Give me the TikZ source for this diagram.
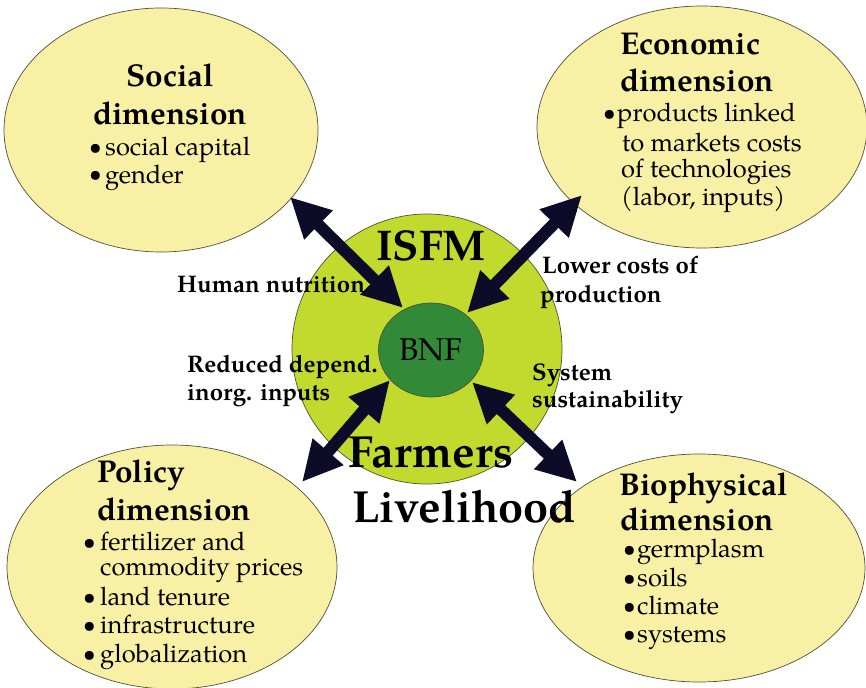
\documentclass[tikz,border=0pt]{standalone}
\usepackage{fontspec}
\setmainfont{TeX Gyre Pagella}
\usetikzlibrary{shapes.geometric,arrows.meta}
\definecolor{ellfill}{RGB}{247,240,165}
\definecolor{ellline}{RGB}{80,80,55}
\definecolor{isfmfill}{RGB}{194,217,46}
\definecolor{bnffill}{RGB}{50,138,56}
\definecolor{arrowcol}{RGB}{12,12,40}
\tikzset{
  dimell/.style={ellipse, draw=ellline, line width=0.7pt, fill=ellfill, inner sep=0pt},
  ttl/.style={font=\fontsize{31.5}{36}\selectfont\bfseries, inner sep=0pt, anchor=base west},
  itm/.style={font=\fontsize{25.5}{28}\selectfont, inner sep=0pt, anchor=base west},
  bul/.style={font=\fontsize{22.5}{24}\selectfont, inner sep=0pt, anchor=base west, yshift=1pt},
  lbl/.style={font=\fontsize{24}{28}\selectfont\bfseries, inner sep=0pt, anchor=base west},
  big/.style={font=\fontsize{45}{52}\selectfont\bfseries, inner sep=0pt, anchor=base west},
  dblarrow/.style={line width=12pt, draw=arrowcol,
    {Triangle[width=38pt,length=40pt]}-{Triangle[width=38pt,length=40pt]}}
}
\begin{document}
\begin{tikzpicture}[x=1pt,y=-1pt]
\useasboundingbox (0,0) rectangle (866,687);
\clip (0,0) rectangle (866,687);
% dimension ellipses
\node[dimell, minimum width=314pt, minimum height=244pt] (soc) at (161,130) {};
\node[dimell, minimum width=330pt, minimum height=242pt] (eco) at (702,127) {};
\node[dimell, minimum width=330pt, minimum height=244pt] (pol) at (172,567) {};
\node[dimell, minimum width=332pt, minimum height=228pt] (bio) at (699,568) {};
% central circles
\node[circle, draw=ellline, line width=0.7pt, fill=isfmfill, minimum size=270pt, inner sep=0pt] (isfm) at (427,349) {};
\node[ellipse, draw=ellline, line width=0.7pt, fill=bnffill, minimum width=105pt, minimum height=94pt, inner sep=0pt,
      font=\fontsize{31.5}{36}\selectfont] (bnf) at (431,350) {BNF};
% arrow tips
\coordinate (socT) at (290,197);
\coordinate (bnfUL) at (403,308);
\coordinate (ecoT) at (582,195);
\coordinate (bnfUR) at (467,313);
\coordinate (polT) at (302,482);
\coordinate (bnfLL) at (390,380);
\coordinate (bioT) at (577,482);
\coordinate (bnfLR) at (472,382);
\draw[dblarrow] (socT) -- (bnfUL);
\draw[dblarrow] (ecoT) -- (bnfUR);
\draw[dblarrow] (polT) -- (bnfLL);
\draw[dblarrow] (bioT) -- (bnfLR);
% central texts
\node[big, anchor=base, font=\fontsize{43}{52}\selectfont\bfseries] (isfmt) at (431,260) {ISFM};
\node[big] (farm) at (348,467) {Farmers};
\node[big] (live) at (352,522) {Livelihood};
% connector labels
\node[lbl] (hn) at (177,292) {Human nutrition};
\node[lbl] (rd1) at (187,372) {Reduced depend.};
\node[lbl] (rd2) at (187,400) {inorg. inputs};
\node[lbl] (lc1) at (542,273) {Lower costs of};
\node[lbl] (lc2) at (540,302) {production};
\node[lbl] (ss1) at (532,380) {System};
\node[lbl] (ss2) at (532,407) {sustainability};
% social
\node[ttl, anchor=base] (soct) at (170,87) {Social};
\node[ttl, anchor=base] (socd) at (170,125) {dimension};
\node[bul] (socb1) at (89,156) {\textbullet};
\node[itm] (soci1) at (105,156) {social capital};
\node[bul] (socb2) at (89,183) {\textbullet};
\node[itm] (soci2) at (105,183) {gender};
% economic
\node[ttl] (ecot) at (620,55) {Economic};
\node[ttl] (ecod) at (620,92) {dimension};
\node[bul] (ecob1) at (603,122) {\textbullet};
\node[itm] (ecoi1) at (617,122) {products linked};
\node[itm] (ecoi2) at (622,152) {to markets costs};
\node[itm] (ecoi3) at (621,178) {of technologies};
\node[itm] (ecoi4) at (621,205) {(labor, inputs)};
% policy
\node[ttl] (polt) at (97,482) {Policy};
\node[ttl] (pold) at (97,520) {dimension};
\node[bul] (polb1) at (83,550) {\textbullet};
\node[itm] (poli1) at (100,550) {fertilizer and};
\node[itm] (poli1b) at (100,575) {commodity prices};
\node[bul] (polb2) at (83,605) {\textbullet};
\node[itm] (poli2) at (100,605) {land tenure};
\node[bul] (polb3) at (83,633) {\textbullet};
\node[itm] (poli3) at (100,633) {infrastructure};
\node[bul] (polb4) at (83,662) {\textbullet};
\node[itm] (poli4) at (100,662) {globalization};
% biophysical
\node[ttl] (biot) at (619,495) {Biophysical};
\node[ttl] (biod) at (620,530) {dimension};
\node[bul] (biob1) at (623,557) {\textbullet};
\node[itm] (bioi1) at (637,557) {germplasm};
\node[bul] (biob2) at (623,586) {\textbullet};
\node[itm] (bioi2) at (637,586) {soils};
\node[bul] (biob3) at (623,614) {\textbullet};
\node[itm] (bioi3) at (637,614) {climate};
\node[bul] (biob4) at (623,642) {\textbullet};
\node[itm] (bioi4) at (637,642) {systems};
\end{tikzpicture}
\end{document}
